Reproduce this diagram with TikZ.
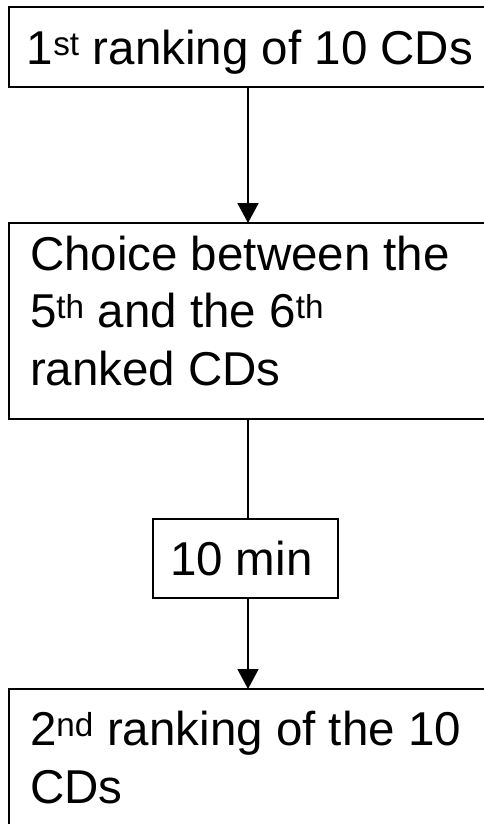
\documentclass[tikz,border=0pt]{standalone}
\usepackage{fontspec}
\setmainfont{Liberation Sans}
\usetikzlibrary{arrows.meta}

\begin{document}
\begin{tikzpicture}[x=1pt, y=-1pt,
  stage/.style={draw=black, line width=1.7pt, rectangle, inner sep=0pt, outer sep=0pt},
  label text/.style={inner sep=0pt, outer sep=0pt, align=left,
    font=\fontsize{47.5}{57.5}\selectfont},
  link/.style={line width=1.7pt},
  flow/.style={link, -{Triangle[length=20pt, width=21pt]}}
]
\useasboundingbox (0,0) rectangle (484,824);

% process boxes (the wide ones run past the right edge)
\node[stage, minimum width=478pt, minimum height=80pt]  (first)  at (248,47)    {};
\node[stage, minimum width=478pt, minimum height=196pt] (choice) at (248,321)   {};
\node[stage, minimum width=185pt, minimum height=79pt]  (wait)   at (245.5,558.5) {};
\node[stage, minimum width=478pt, minimum height=220pt] (second) at (248,799)   {};

% box texts (base anchor = baseline of the last line)
\node[label text, anchor=base] (t1) at (250,65) {1\textsuperscript{st} ranking of 10 CDs};
\node[label text, anchor=base west] (t2) at (30,385)
  {Choice between the\\5\textsuperscript{th} and the 6\textsuperscript{th}\\ranked CDs};
\node[label text, anchor=base west] (t3) at (170,575) {10 min};
\node[label text, anchor=base west] (t4) at (30,803) {2\textsuperscript{nd} ranking of the 10\\CDs};

% vertical axis of the connectors
\coordinate (axis) at (248,0);

\draw[flow] (first.south -| axis) -- (choice.north -| axis);
\draw[link] (choice.south -| axis) -- (wait.north -| axis);
\draw[flow] (wait.south -| axis) -- (second.north -| axis);
\end{tikzpicture}
\end{document}
